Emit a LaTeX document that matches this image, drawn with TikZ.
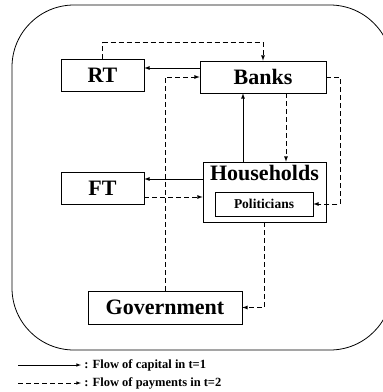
\documentclass[tikz,border=0pt]{standalone}
\usepackage{fontspec}
\setmainfont{Liberation Serif}
\usetikzlibrary{arrows}

\newcommand{\boxfont}{\fontsize{22}{26}\selectfont\bfseries}
\newcommand{\polfont}{\fontsize{13.5}{16}\selectfont\bfseries}
\newcommand{\legfont}{\fontsize{12.5}{15}\selectfont\bfseries}

\begin{document}
\begin{tikzpicture}[
    x=1pt, y=-1pt,
    line width=0.8pt,
    box/.style={draw=black, line width=0.7pt, inner sep=0pt, font=\boxfont},
    capital/.style={draw, -latex},
    payment/.style={draw, -latex, dash pattern=on 5pt off 3pt}
    ]

    \useasboundingbox (0,0) rectangle (383,392);
    \draw[rounded corners=62pt] (12,5) rectangle (392,350);

    \node[box, minimum width=83pt, minimum height=32pt] (rt) at (102.5,75) {RT};
    \node[box, minimum width=126pt, minimum height=32pt] (banks) at (263,77) {Banks};
    \node[box, minimum width=83pt, minimum height=32pt] (ft) at (102.5,188) {FT};
    \node[box, minimum width=123pt, minimum height=60pt,
      label={[font=\boxfont, anchor=north, inner sep=2pt, yshift=-1pt]north:Households}] (hh) at (264.5,192) {};
    \node[box, font=\polfont, minimum width=98pt, minimum height=24pt] (pol) at (264,204) {Politicians};
    \node[box, minimum width=154pt, minimum height=33pt] (gov) at (165,307.5) {Government};

    \draw[payment] (rt.north) -- ++(0,-16) -| (banks.north);
    \draw[capital] ([yshift=9pt]banks.west) coordinate (bw) -- (bw -| rt.east);
    \draw[payment] (gov.north) |- (banks.west);
    \draw[capital] ([xshift=-21.5pt]hh.north) coordinate (hn) -- (hn |- banks.south);
    \draw[payment] ([xshift=23pt]banks.south) coordinate (bs) -- (bs |- hh.north);
    \draw[capital] ([yshift=13pt]hh.west) coordinate (hw) -- (hw -| ft.east);
    \draw[payment] ([yshift=-9pt]ft.east) coordinate (fe) -- (fe -| hh.west);
    \draw[payment] (banks.east) -- ++(14,0) |- (pol.east);
    \draw[payment] (hh.south) |- (gov.east);

    \coordinate (leg1) at (18,365);
    \coordinate (leg2) at (18,383);
    \node[anchor=west, inner sep=3pt, font=\legfont] (cap) at (81,365) {: Flow of capital in t=1};
    \node[anchor=west, inner sep=3pt, font=\legfont] (pay) at (81,383) {: Flow of payments in t=2};
    \draw[capital, line width=0.6pt] (leg1) -- (cap.west);
    \draw[payment, line width=0.6pt] (leg2) -- (pay.west);

\end{tikzpicture}
\end{document}
